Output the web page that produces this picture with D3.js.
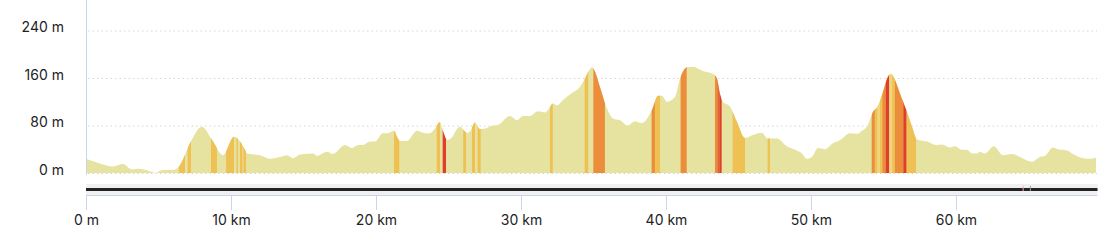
<!DOCTYPE html>
<html>
<head>
<meta charset="utf-8">
<script src="https://cdn.jsdelivr.net/npm/d3@7"></script>
<style>
    body { margin: 0; background: #fff; }
    svg { display: block; font-family: Inter, "Noto Sans", sans-serif; }
</style>
</head>
<body>
<div id="profile"></div>
<script>
//distance along the route (km)
var distKm = [0, 0.97, 1.86, 2.55, 3.17, 3.59, 4.41, 4.83, 5.10, 5.31, 6.00, 6.48, 7.17, 8.00, 8.69,
    9.45, 10.21, 10.97, 11.10, 12.00, 12.69, 13.38, 13.86, 14.28, 14.76, 15.66, 15.93, 16.62, 17.03,
    17.86, 18.34, 18.76, 19.10, 19.59, 19.93, 20.48, 20.83, 21.24, 21.45, 21.66, 22.14, 22.83, 23.38,
    23.72, 24.07, 24.41, 24.62, 24.90, 25.10, 25.79, 26.28, 26.48, 26.83, 27.17, 27.38, 28.07, 28.41,
    29.24, 29.72, 30.14, 30.62, 31.17, 31.66, 31.86, 32.21, 32.48, 32.90, 33.59, 34.07, 34.41, 34.76,
    34.90, 35.10, 35.45, 35.93, 36.34, 36.83, 37.38, 37.86, 38.34, 39.03, 39.45, 39.72, 40.07, 40.62,
    40.97, 41.45, 41.86, 42.55, 43.24, 43.52, 43.72, 43.93, 44.41, 44.90, 45.45, 46.00, 46.62, 47.03,
    47.66, 48.34, 49.03, 49.38, 49.72, 50.07, 50.48, 50.97, 51.52, 52.00, 52.69, 53.17, 53.52, 53.93,
    54.28, 54.62, 54.97, 55.31, 55.52, 55.79, 56.14, 56.62, 56.97, 57.31, 58.00, 58.69, 59.03, 59.59,
    59.93, 60.41, 60.76, 61.10, 61.45, 61.66, 62.00, 62.62, 63.24, 63.86, 64.41, 65.24, 65.79, 66.14,
    66.69, 67.03, 67.66, 68.07, 68.76, 69.38, 69.66];

//elevation (m)
var elevM = [24, 16, 11, 15, 6, 7, 3, 0, 4, 5, 5, 13, 50, 78, 56,
    30, 61, 39, 33, 30, 24, 27, 30, 25, 31, 33, 29, 36, 32,
    47, 42, 47, 47, 53, 53, 67, 67, 71, 61, 54, 54, 71, 67,
    67, 75, 86, 71, 56, 57, 78, 68, 70, 85, 74, 74, 80, 81,
    96, 89, 96, 96, 104, 102, 106, 117, 114, 123, 136, 145, 159, 175,
    178, 171, 145, 109, 92, 89, 80, 87, 84, 106, 130, 130, 120, 128,
    159, 178, 179, 172, 167, 159, 134, 120, 112, 86, 59, 64, 68, 58,
    58, 45, 38, 33, 24, 27, 42, 40, 50, 55, 67, 66, 71, 81,
    103, 113, 137, 162, 167, 157, 134, 103, 78, 57, 53, 47, 48, 43,
    45, 39, 39, 33, 33, 36, 33, 45, 30, 32, 27, 19, 27, 29,
    43, 40, 38, 32, 25, 24, 26];

//steep sections: start km, end km, grade class
var bandStart = [6.41, 7.01, 8.62, 9.66, 10.38, 10.62, 10.86, 21.24, 24.19, 24.60, 26.02, 26.62, 27.01,
    32.00, 34.39, 34.99, 39.01, 39.24, 41.01, 43.38, 43.54, 43.68, 44.60, 47.01,
    54.19, 54.41, 54.60, 54.76, 54.92, 55.15, 55.40, 55.60, 55.79, 56.37, 56.60];
var bandEnd = [6.83, 7.24, 9.03, 10.21, 10.48, 10.79, 11.03, 21.61, 24.41, 24.83, 26.21, 26.83, 27.22,
    32.19, 34.64, 35.79, 39.24, 39.59, 41.43, 43.54, 43.68, 43.84, 45.45, 47.17,
    54.41, 54.60, 54.76, 54.92, 55.15, 55.40, 55.60, 55.79, 56.37, 56.60, 57.24];
var bandGrade = [1, 1, 1, 1, 1, 1, 1, 1, 1, 3, 1, 1, 1,
    1, 1, 2, 2, 1, 2, 2, 2.5, 3, 1, 1,
    2, 1, 0.5, 1, 2, 3, 0.5, 1, 2, 3, 1];

//axis ticks
var elevTicks = [0, 80, 160, 240];
var distTicks = [0, 10, 20, 30, 40, 50, 60];

var gradeColor = {
    0.5: "#efd67c",
    1: "#efc052",
    2: "#eb8d3b",
    2.5: "#e6632f",
    3: "#e03e2a"
};

//svg dimensions
var svgWidth = 1107;
var svgHeight = 240;

var margin = { left: 86, right: 11, top: 0 };
var plotBottom = 173;

var svg = d3.select("#profile").append("svg")
    .attr("width", svgWidth)
    .attr("height", svgHeight);

var profile = distKm.map((d, i) => ({ km: d, m: elevM[i] }));

var xScale = d3.scaleLinear()
    .domain([0, 69.66])
    .range([margin.left, 1096]);

var yScale = d3.scaleLinear()
    .domain([0, 240])
    .range([plotBottom, 30.5]);

//dotted grid lines
svg.append("g")
    .selectAll("line")
    .data(elevTicks)
    .enter()
    .append("line")
    .attr("x1", margin.left + 2)
    .attr("x2", svgWidth - margin.right + 1)
    .attr("y1", d => yScale(d) + 0.5)
    .attr("y2", d => yScale(d) + 0.5)
    .attr("stroke", "#d6d6d6")
    .attr("stroke-width", 1)
    .attr("stroke-dasharray", "1.5,3");

//elevation area
var area = d3.area()
    .x(d => xScale(d.km))
    .y0(yScale(0))
    .y1(d => yScale(d.m))
    .curve(d3.curveMonotoneX);

svg.append("clipPath")
    .attr("id", "profileClip")
    .append("path")
    .attr("d", area(profile));

svg.append("path")
    .attr("d", area(profile))
    .attr("fill", "#e6e3a0");

//coloured grade bands clipped to the profile
svg.append("g")
    .attr("clip-path", "url(#profileClip)")
    .selectAll("rect")
    .data(bandStart)
    .enter()
    .append("rect")
    .attr("x", d => xScale(d))
    .attr("width", (d, i) => xScale(bandEnd[i]) - xScale(d))
    .attr("y", 0)
    .attr("height", plotBottom + 1)
    .attr("fill", (d, i) => gradeColor[bandGrade[i]]);

//left axis line
svg.append("line")
    .attr("x1", margin.left + 0.5)
    .attr("x2", margin.left + 0.5)
    .attr("y1", 0)
    .attr("y2", plotBottom + 2)
    .attr("stroke", "#c8d5ea");

//y labels
svg.append("g")
    .selectAll("text")
    .data(elevTicks)
    .enter()
    .append("text")
    .attr("x", 64)
    .attr("y", d => yScale(d) + 1.5)
    .attr("text-anchor", "end")
    .attr("font-size", "14px")
    .attr("fill", "#222")
    .text(d => d + " m");

//range navigator strip
svg.append("rect")
    .attr("x", margin.left)
    .attr("y", 184)
    .attr("width", xScale(69.66) - margin.left + 1.5)
    .attr("height", 11)
    .attr("fill", "#f0f0f0");

svg.append("rect")
    .attr("x", margin.left)
    .attr("y", 188)
    .attr("width", xScale(69.66) - margin.left + 1.5)
    .attr("height", 3)
    .attr("fill", "#222");

svg.append("rect")
    .attr("x", xScale(64.6))
    .attr("y", 186)
    .attr("width", 1)
    .attr("height", 5)
    .attr("fill", "#e9b0b0");

svg.append("rect")
    .attr("x", xScale(65.1))
    .attr("y", 186)
    .attr("width", 1)
    .attr("height", 5)
    .attr("fill", "#999");

//bottom axis
var bottomAxis = d3.axisBottom(xScale)
    .tickValues(distTicks)
    .tickSize(15)
    .tickPadding(5)
    .tickFormat(d => d === 0 ? "0 m" : d + " km");

var xAxis = svg.append("g")
    .attr("transform", "translate(0, 195)")
    .call(bottomAxis);

xAxis.select(".domain")
    .attr("stroke", "#c8d5ea")
    .attr("d", `M${margin.left},0.5H${xScale(69.66) + 1.5}`);

xAxis.selectAll(".tick line")
    .attr("stroke", "#c8d5ea");

xAxis.selectAll(".tick text")
    .attr("font-family", "Inter, 'Noto Sans', sans-serif")
    .attr("font-size", "14px")
    .attr("fill", "#222");
</script>
</body>
</html>
